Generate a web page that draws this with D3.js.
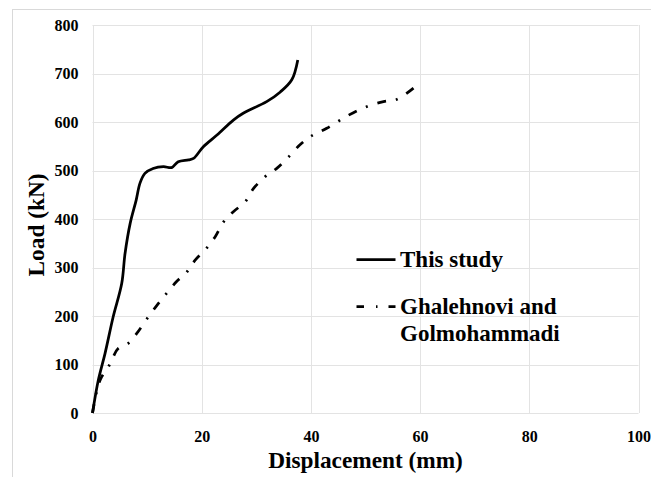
<!DOCTYPE html>
<html>
<head>
<meta charset="utf-8">
<script src="https://cdn.jsdelivr.net/npm/d3@7"></script>
<style>
  html, body { margin: 0; padding: 0; background: #fff; }
  svg { display: block; }
  text { font-family: "Liberation Serif", "Times New Roman", serif; font-weight: bold; fill: #000; }
</style>
</head>
<body>
<svg id="chart" width="651" height="477"></svg>
<script>
// ---- data ----
const studyX = [0, 1.07, 2.3, 3.8, 5.35, 5.96, 6.9, 8.0, 8.7, 9.6, 11.1, 13.0, 14.5, 15.7, 17.6, 18.5, 20.3, 22.8, 25.8, 27.6, 31.9, 34.4, 36.5, 37.6];
const studyY = [0, 68, 123, 199, 267, 329, 391, 439, 474, 494, 504, 508, 506, 518, 522, 525, 549, 573, 604, 618, 642, 662, 687, 728];

const ghalX = [0, 1.0, 1.7, 2.9, 3.8, 4.7, 6.6, 8.1, 9.9, 11.8, 13.6, 15.4, 17.3, 18.8, 20.9, 22.5, 24.0, 25.8, 28.0, 29.5, 31.6, 33.8, 35.9, 38.0, 39.9, 42.9, 46.9, 50.3, 53.3, 55.8, 58.8];
const ghalY = [0, 55, 75, 95, 116, 133, 144, 164, 193, 222, 247, 271, 291, 315, 340, 364, 394, 415, 436, 463, 487, 505, 528, 553, 570, 587, 614, 632, 642, 647, 670];

const xTicks = [0, 20, 40, 60, 80, 100];
const yTicks = [0, 100, 200, 300, 400, 500, 600, 700, 800];
const seriesNames = ["This study", "Ghalehnovi and|Golmohammadi"];
const xTitle = "Displacement (mm)";
const yTitle = "Load (kN)";

// ---- layout ----
const svg = d3.select("#chart");
const pL = 92.5, pR = 638.5, pT = 25, pB = 413;
const x = d3.scaleLinear().domain([0, 100]).range([pL, pR]);
const y = d3.scaleLinear().domain([0, 800]).range([pB, pT]);

// outer chart border
svg.append("rect").attr("x", 12.5).attr("y", 9.5).attr("width", 660).attr("height", 500)
  .attr("fill", "none").attr("stroke", "#d9d9d9").attr("stroke-width", 1);

// gridlines
const grid = svg.append("g");
grid.selectAll("line.h").data(yTicks).join("line")
  .attr("x1", pL).attr("x2", pR)
  .attr("y1", d => Math.round(y(d)) + 0.5).attr("y2", d => Math.round(y(d)) + 0.5)
  .attr("stroke", "#e3e3e3").attr("stroke-width", 1);
grid.selectAll("line.v").data(xTicks).join("line")
  .attr("y1", pT).attr("y2", pB)
  .attr("x1", d => Math.round(x(d)) + 0.5).attr("x2", d => Math.round(x(d)) + 0.5)
  .attr("stroke", "#e3e3e3").attr("stroke-width", 1);

// axes (labels only)
const xAxis = d3.axisBottom(x).tickValues(xTicks).tickSize(0).tickPadding(18);
const gx = svg.append("g").attr("transform", `translate(0,${pB})`).call(xAxis);
gx.select(".domain").remove();
gx.selectAll("text").style("font-size", "16px").style("font-family", "Liberation Serif").style("font-weight", "bold").attr("fill", "#111");

const yAxis = d3.axisLeft(y).tickValues(yTicks).tickSize(0).tickPadding(14);
const gy = svg.append("g").attr("transform", `translate(${pL},0)`).call(yAxis);
gy.select(".domain").remove();
gy.selectAll("text").style("font-size", "16px").style("font-family", "Liberation Serif").style("font-weight", "bold").attr("fill", "#111");

// titles
svg.append("text").attr("x", (pL + pR) / 2).attr("y", 467.5)
  .attr("text-anchor", "middle").style("font-size", "23.3px").text(xTitle);
svg.append("text").attr("transform", "translate(43.5,225) rotate(-90)")
  .attr("text-anchor", "middle").style("font-size", "23.3px").text(yTitle);

// lines
const line = d3.line().x(d => x(d[0])).y(d => y(d[1])).curve(d3.curveCatmullRom.alpha(0.5));
const study = studyX.map((v, i) => [v, studyY[i]]);
const ghal = ghalX.map((v, i) => [v, ghalY[i]]);

svg.append("path").datum(ghal).attr("d", line)
  .attr("fill", "none").attr("stroke", "#000").attr("stroke-width", 2.75)
  .attr("stroke-dasharray", "9,10,2,10");
svg.append("path").datum(study).attr("d", line)
  .attr("fill", "none").attr("stroke", "#000").attr("stroke-width", 2.75)
  .attr("stroke-linejoin", "round");

// legend
const lg = svg.append("g");
lg.append("line").attr("x1", 356.5).attr("x2", 395.5).attr("y1", 259.5).attr("y2", 259.5)
  .attr("stroke", "#000").attr("stroke-width", 2.75);
lg.append("text").attr("x", 400).attr("y", 267).style("font-size", "23px").text(seriesNames[0]);

lg.append("line").attr("x1", 356.5).attr("x2", 395.5).attr("y1", 306.5).attr("y2", 306.5)
  .attr("stroke", "#000").attr("stroke-width", 2.75).attr("stroke-dasharray", "7.5,12,1.5,11");
const parts = seriesNames[1].split("|");
lg.append("text").attr("x", 400).attr("y", 313.5).style("font-size", "23px").text(parts[0]);
lg.append("text").attr("x", 400).attr("y", 340.5).style("font-size", "23px").text(parts[1]);
</script>
</body>
</html>
